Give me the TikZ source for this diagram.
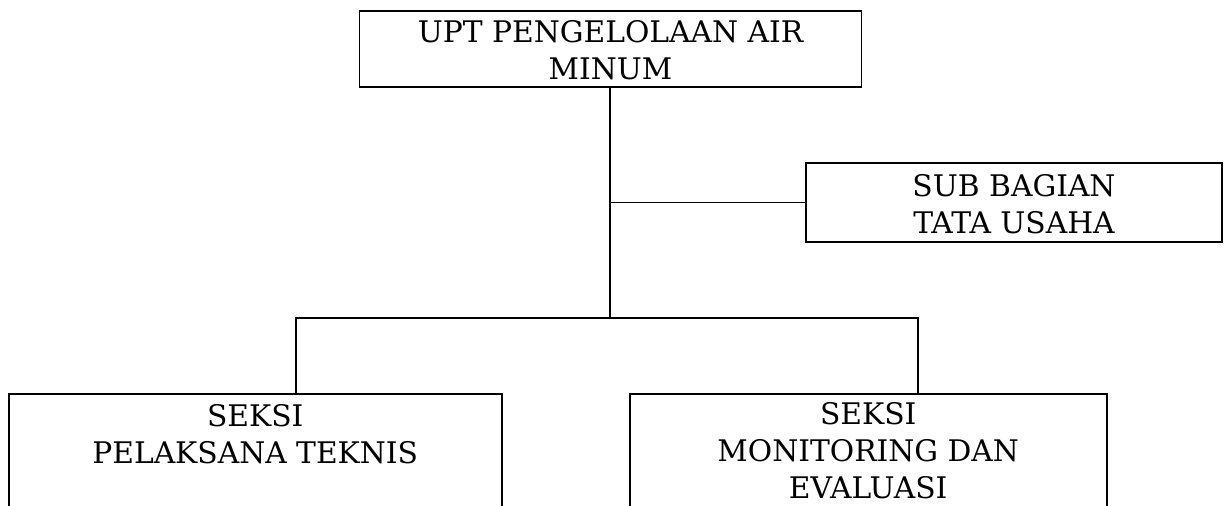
\documentclass[tikz,border=0pt]{standalone}
\usepackage{fontspec}
\setmainfont{DejaVu Serif}
\begin{document}
\begin{tikzpicture}[x=0.75pt,y=-0.75pt,
  box/.style={draw=black,line width=1.4pt,rectangle,inner sep=0pt},
  txt/.style={align=center,inner sep=0pt,font=\fontsize{22.3}{27.75}\selectfont},
  conn/.style={draw=black,line width=1.4pt}]
\useasboundingbox (0,0) rectangle (1224,506);
\clip (0,0) rectangle (1224,506);
% boxes
\node[box,minimum width=376.5pt,minimum height=56.8pt] (top) at (610.5,48.85) {};
\node[box,minimum width=312pt,minimum height=58.8pt] (sub) at (1014,202.5) {};
\node[box,minimum width=369.75pt,minimum height=120pt] (lft) at (255.2,473.7) {};
\node[box,minimum width=357.75pt,minimum height=120pt] (rgt) at (868.2,473.7) {};
% texts (anchor base = baseline of last line)
\node[txt,anchor=base] (topt) at (610.5,79.3) {UPT PENGELOLAAN AIR\\MINUM};
\node[txt,anchor=base] (subt) at (1014,233.3) {SUB BAGIAN\\TATA USAHA};
\node[txt,anchor=base] (lftt) at (255.2,463.3) {SEKSI\\PELAKSANA TEKNIS};
\node[txt,anchor=base] (rgtt) at (868.2,498.3) {SEKSI\\MONITORING DAN\\EVALUASI};
% connectors
\coordinate (bus) at (610,317.7);
\coordinate (bl) at (295.7,317.7);
\coordinate (br) at (918,317.7);
\draw[conn] (top.south -| bus) -- (bus);
\draw[conn] (sub.west) -- (sub.west -| bus);
\draw[conn] (bl |- lft.north) -- (bl) -- (br) -- (br |- rgt.north);
\end{tikzpicture}
\end{document}
